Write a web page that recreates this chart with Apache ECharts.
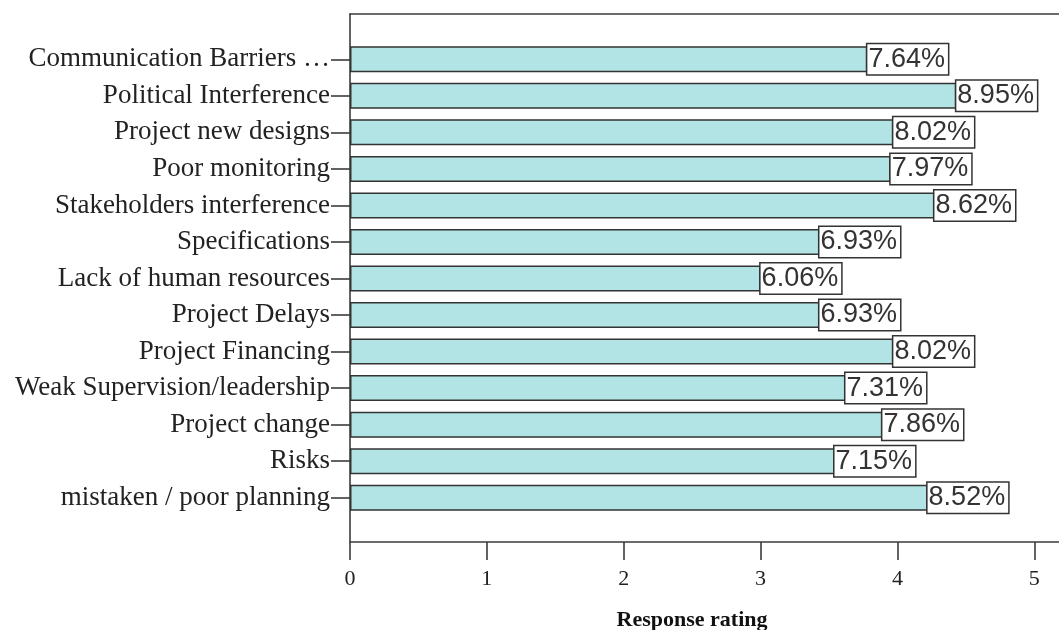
<!DOCTYPE html>
<html>
<head>
<meta charset="utf-8">
<script src="https://cdn.jsdelivr.net/npm/echarts@6/dist/echarts.min.js"></script>
<style>
  html, body { margin: 0; padding: 0; background: #fff; }
  #chart { width: 1059px; height: 630px; }
</style>
</head>
<body>
<div id="chart"></div>
<script>
// Factors, listed top to bottom
const categories = [
  'Communication Barriers \u2026',
  'Political Interference',
  'Project new designs',
  'Poor monitoring',
  'Stakeholders interference',
  'Specifications',
  'Lack of human resources',
  'Project Delays',
  'Project Financing',
  'Weak Supervision/leadership',
  'Project change',
  'Risks',
  'mistaken / poor planning'
];

// Mean response rating for each factor
const ratings = [3.78, 4.43, 3.97, 3.95, 4.27, 3.43, 3.00, 3.43, 3.97, 3.62, 3.89, 3.54, 4.22];

// Share of the total rating, shown at the end of each bar
const shares = ['7.64%', '8.95%', '8.02%', '7.97%', '8.62%', '6.93%', '6.06%', '6.93%', '8.02%', '7.31%', '7.86%', '7.15%', '8.52%'];

// Rating axis ticks
const ratingTicks = [0, 1, 2, 3, 4, 5];
const AXIS_MAX = 5.18;

const lineColor = '#3c3c3c';
const serif = '"Liberation Serif", "Times New Roman", serif';

const chart = echarts.init(document.getElementById('chart'), null, { renderer: 'canvas' });

chart.setOption({
  animation: false,
  backgroundColor: '#ffffff',
  grid: [
    { left: 350, right: 0, top: 41, bottom: 114 },   // bars
    { left: 350, right: 0, top: 14, bottom: 88 }     // frame and rating axis
  ],
  xAxis: [
    { gridIndex: 0, type: 'value', min: 0, max: AXIS_MAX, show: false },
    {
      gridIndex: 1, type: 'value', min: 0, max: AXIS_MAX, position: 'bottom',
      axisLine: { show: true, lineStyle: { color: lineColor, width: 1.6 } },
      axisTick: { show: true, length: 18, customValues: ratingTicks, lineStyle: { color: lineColor, width: 1.6 } },
      axisLabel: { show: true, customValues: ratingTicks, margin: 26, fontFamily: serif, fontSize: 22, color: '#222' },
      splitLine: { show: false }
    },
    {
      gridIndex: 1, type: 'value', min: 0, max: AXIS_MAX, position: 'top',
      axisLine: { show: true, lineStyle: { color: lineColor, width: 1.6 } },
      axisTick: { show: false }, axisLabel: { show: false }, splitLine: { show: false }
    }
  ],
  yAxis: [
    {
      gridIndex: 0, type: 'category', data: categories, inverse: true,
      axisLine: { show: false },
      axisTick: { show: true, alignWithLabel: true, length: 19, lineStyle: { color: lineColor, width: 1.6 } },
      axisLabel: { margin: 20, fontFamily: serif, fontSize: 27, color: '#222' }
    },
    {
      gridIndex: 1, type: 'value', min: 0, max: 1,
      axisLine: { show: true, lineStyle: { color: lineColor, width: 1.6 } },
      axisTick: { show: false }, axisLabel: { show: false }, splitLine: { show: false }
    }
  ],
  graphic: [
    {
      type: 'text', x: 692, y: 620,
      style: {
        text: 'Response rating', fill: '#111',
        font: 'bold 22px "Liberation Serif", "Times New Roman", serif',
        textAlign: 'center', textVerticalAlign: 'middle'
      }
    }
  ],
  series: [
    {
      type: 'bar',
      xAxisIndex: 0, yAxisIndex: 0,
      data: ratings,
      barWidth: 26,
      itemStyle: { color: '#b3e4e5', borderColor: '#333', borderWidth: 1.5 },
      label: {
        show: true, position: 'right', distance: 0,
        formatter: (p) => shares[p.dataIndex],
        fontFamily: '"Liberation Sans", Arial, sans-serif', fontSize: 27, color: '#333',
        backgroundColor: '#fff', borderColor: '#333', borderWidth: 1.5,
        padding: [1, 3, 0, 1], lineHeight: 29
      }
    }
  ]
});
</script>
</body>
</html>
